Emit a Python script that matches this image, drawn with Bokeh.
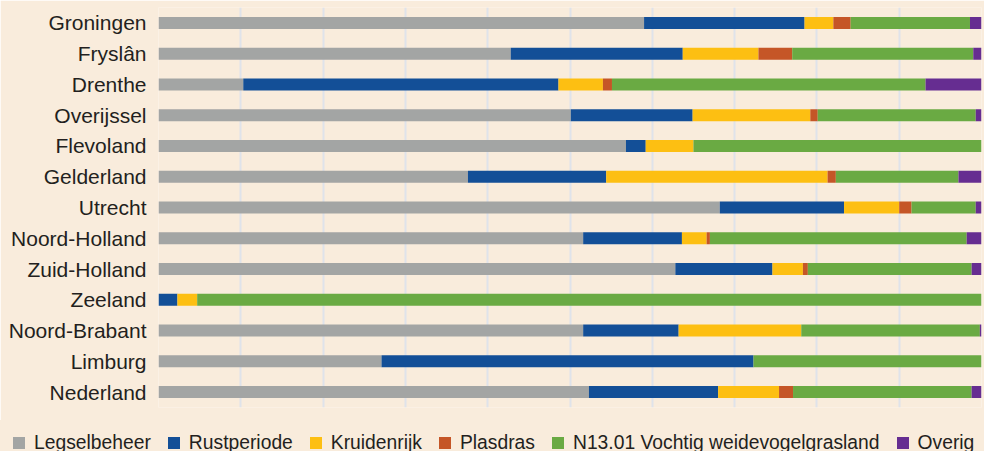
from bokeh.plotting import figure
from bokeh.layouts import column
from bokeh.models import FactorRange, Range1d, FixedTicker, ColumnDataSource, Div
from bokeh.embed import file_html
from bokeh.resources import INLINE

provinces = ["Groningen", "Fryslân", "Drenthe", "Overijssel", "Flevoland", "Gelderland",
             "Utrecht", "Noord-Holland", "Zuid-Holland", "Zeeland", "Noord-Brabant",
             "Limburg", "Nederland"]

series = ["Legselbeheer", "Rustperiode", "Kruidenrijk", "Plasdras",
          "N13.01 Vochtig weidevogelgrasland", "Overig"]

legselbeheer = [59.0, 42.8, 10.3, 50.1, 56.8, 37.6, 68.2, 51.6, 62.8, 0.0, 51.6, 27.1, 52.3]
rustperiode = [19.5, 20.9, 38.3, 14.8, 2.4, 16.8, 15.1, 12.0, 11.8, 2.3, 11.6, 45.2, 15.7]
kruidenrijk = [3.5, 9.2, 5.4, 14.3, 5.8, 26.9, 6.7, 3.0, 3.7, 2.4, 14.9, 0.0, 7.4]
plasdras = [2.1, 4.1, 1.1, 0.9, 0.0, 1.0, 1.5, 0.4, 0.6, 0.0, 0.0, 0.0, 1.7]
vochtig = [14.5, 22.0, 38.1, 19.2, 35.0, 14.9, 7.8, 31.2, 19.9, 95.3, 21.7, 27.7, 21.7]
overig = [1.4, 1.0, 6.8, 0.7, 0.0, 2.8, 0.7, 1.8, 1.2, 0.0, 0.2, 0.0, 1.2]

colors = ["#a3a5a4", "#134f97", "#fdbf12", "#c55627", "#6aaa43", "#662d91"]
grid_ticks = [0, 10, 20, 30, 40, 50, 60, 70, 80, 90, 100]

keys = ["s0", "s1", "s2", "s3", "s4", "s5"]
source = ColumnDataSource(data=dict(
    prov=provinces, s0=legselbeheer, s1=rustperiode, s2=kruidenrijk,
    s3=plasdras, s4=vochtig, s5=overig))

bg = "#f9ecdc"
text_col = "#231f20"

p = figure(width=984, height=420,
           y_range=FactorRange(factors=provinces[::-1]),
           x_range=Range1d(0, 100),
           output_backend="svg", toolbar_location=None,
           min_border_left=158, min_border_right=3,
           min_border_top=7, min_border_bottom=13,
           background_fill_color=bg, border_fill_color=bg)
p.outline_line_color = None

p.hbar_stack(keys, y="prov", height=0.39, color=colors, source=source, line_color=None)

p.xaxis.visible = False
p.xgrid.ticker = FixedTicker(ticks=grid_ticks)
p.xgrid.grid_line_color = "#dfe3ea"
p.xgrid.grid_line_width = 2
p.ygrid.grid_line_color = None

ya = p.yaxis[0]
ya.axis_line_color = None
ya.major_tick_line_color = None
ya.minor_tick_line_color = None
ya.major_tick_out = 0
ya.major_tick_in = 0
ya.major_label_standoff = 12
ya.major_label_text_font = "Liberation Sans"
ya.major_label_text_font_size = "21px"
ya.major_label_text_color = text_col

# legend strip below the chart
items = []
for s, c in zip(series, colors):
    items.append(
        '<span style="flex:none;display:inline-block;width:12px;height:12px;'
        'background:%s;margin-right:9px"></span>'
        '<span style="flex:none;margin-right:17px">%s</span>' % (c, s))
legend_html = (
    '<div style="display:flex;align-items:center;box-sizing:border-box;'
    'width:984px;height:31px;padding-left:13px;padding-top:14px;'
    'background:%s;font-family:\'Liberation Sans\';font-size:19.3px;'
    'color:%s;white-space:nowrap;line-height:22px">%s</div>'
    % (bg, text_col, "".join(items)))
legend = Div(text=legend_html, width=984, height=31, margin=0,
             styles={"background-color": bg})

layout = column(p, legend, spacing=0)
open("out.html", "w").write(file_html(layout, INLINE))
